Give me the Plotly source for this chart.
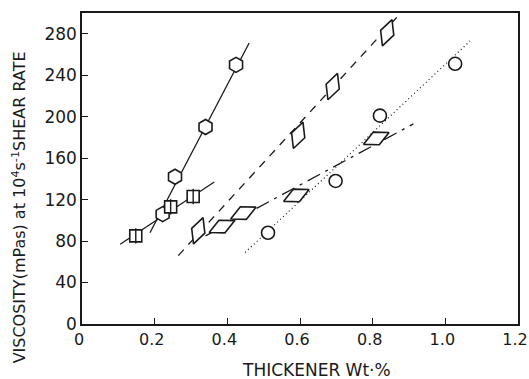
import plotly.graph_objects as go

# Data
hex_x = [0.222, 0.256, 0.34, 0.424]
hex_y = [106, 142, 190, 250]
hex_fit_x = [0.187, 0.46]
hex_fit_y = [88, 271]

sq_x = [0.148, 0.244, 0.306]
sq_y = [85, 113, 123]
sq_fit_x = [0.105, 0.364]
sq_fit_y = [77, 137]

dia1_x = [0.32, 0.595, 0.69, 0.84]
dia1_y = [90, 182, 229, 281]
dia1_fit_x = [0.265, 0.867]
dia1_fit_y = [66, 296]

dia2_x = [0.385, 0.444, 0.59, 0.81]
dia2_y = [94, 107, 124, 179]
dia2_fit_x = [0.34, 0.912]
dia2_fit_y = [85, 193]

circ_x = [0.512, 0.698, 0.82, 1.027]
circ_y = [88, 138, 201, 251]
circ_fit_x = [0.449, 1.068]
circ_fit_y = [69, 273]

x_ticks = [0, 0.2, 0.4, 0.6, 0.8, 1.0, 1.2]
x_tick_labels = ["0", "0.2", "0.4", "0.6", "0.8", "1.0", "1.2"]
y_ticks = [0, 40, 80, 120, 160, 200, 240, 280]

BLACK = "#1a1a1a"
fig = go.Figure()

def fit(x, y, dash, width=1.3):
    fig.add_trace(go.Scatter(x=x, y=y, mode="lines",
                             line=dict(color=BLACK, width=width, dash=dash),
                             showlegend=False, hoverinfo="skip"))

def pts(x, y, symbol, size, angle=0):
    fig.add_trace(go.Scatter(x=x, y=y, mode="markers",
                             marker=dict(symbol=symbol, size=size, angle=angle,
                                         color="white",
                                         line=dict(color=BLACK, width=1.6)),
                             showlegend=False))

fit(hex_fit_x, hex_fit_y, "solid")
fit(sq_fit_x, sq_fit_y, "solid")
fit(dia1_fit_x, dia1_fit_y, "8px,7px")
fit(dia2_fit_x, dia2_fit_y, "14px,6px,3px,6px")
fit(circ_fit_x, circ_fit_y, "1px,3px", width=1.2)

pts(hex_x, hex_y, "hexagon", 15)
pts(sq_x, sq_y, "square", 12)
fig.add_trace(go.Scatter(x=sq_x, y=sq_y, mode="markers",
                         marker=dict(symbol="line-ns-open", size=11, color=BLACK,
                                     line=dict(color=BLACK, width=1.4)),
                         showlegend=False, hoverinfo="skip"))
pts(dia1_x, dia1_y, "diamond-tall", 20, angle=20)
pts(dia2_x, dia2_y, "diamond-wide", 20, angle=-25)
pts(circ_x, circ_y, "circle", 13)

font = "DejaVu Sans, Liberation Sans, sans-serif"
fig.update_layout(
    width=529, height=379,
    margin=dict(l=82, r=11, t=13, b=55, autoexpand=False),
    paper_bgcolor="white", plot_bgcolor="white",
    font=dict(family=font, color=BLACK, size=17),
    xaxis=dict(range=[0, 1.2], tickvals=x_ticks, ticktext=x_tick_labels,
               tickfont=dict(size=16), ticklabelshift=-3,
               ticks="inside", ticklen=6, tickwidth=1.3, tickcolor=BLACK,
               ticklabeloverflow="allow", automargin=False,
               showline=True, mirror=True, linecolor=BLACK, linewidth=1.5,
               showgrid=False, zeroline=False),
    yaxis=dict(range=[0, 300], tickvals=y_ticks, automargin=False,
               ticks="inside", ticklen=6, tickwidth=1.3, tickcolor=BLACK,
               showline=True, mirror=True, linecolor=BLACK, linewidth=1.5,
               showgrid=False, zeroline=False),
    annotations=[
        dict(text="THICKENER Wt·%", xref="paper", yref="paper",
             x=0.537, y=-0.148, showarrow=False, font=dict(size=17),
             xanchor="center", yanchor="middle"),
        dict(text="VISCOSITY(mPas) at 10<sup>4</sup>s<sup>-1</sup>SHEAR RATE",
             xref="paper", yref="paper", x=-0.1445, y=0.375, textangle=-90,
             showarrow=False, font=dict(size=16),
             xanchor="center", yanchor="middle"),
    ],
)

fig.write_html("out.html")
